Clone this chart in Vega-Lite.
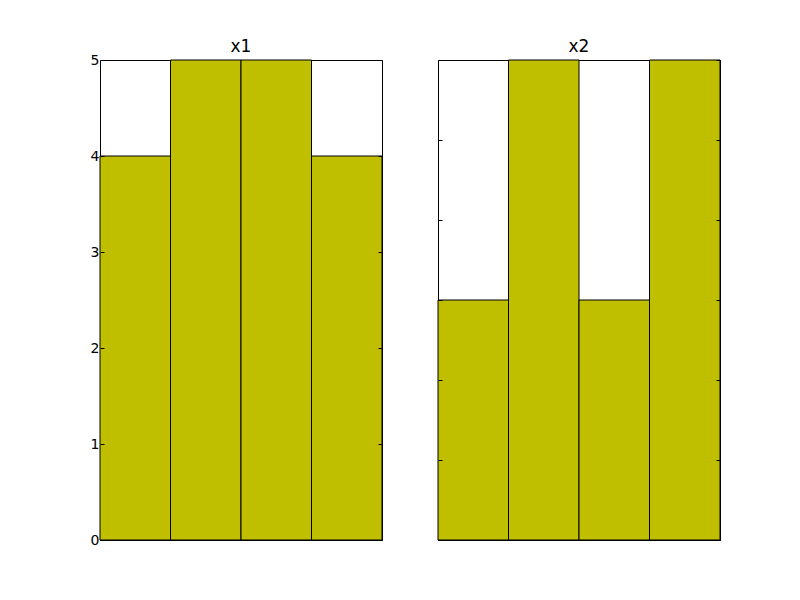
{
  "$schema": "https://vega.github.io/schema/vega-lite/v6.json",
  "padding": {"left": 89, "top": 37, "right": 0, "bottom": 0},
  "background": "white",
  "bounds": "flush",
  "config": {
    "font": "DejaVu Sans",
    "view": {"stroke": "black", "strokeWidth": 1},
    "title": {"fontSize": 17, "fontWeight": "normal", "color": "black", "offset": -3, "font": "DejaVu Sans"},
    "axis": {"grid": false, "domain": false, "tickColor": "black", "tickSize": -4, "labelColor": "black", "labelFont": "DejaVu Sans", "labelFontSize": 14, "zindex": 2}
  },
  "datasets": {
    "x1": [{"bin": "a", "count": 4}, {"bin": "b", "count": 5}, {"bin": "c", "count": 5}, {"bin": "d", "count": 4}],
    "x2": [{"bin": "a", "count": 1.5}, {"bin": "b", "count": 3}, {"bin": "c", "count": 1.5}, {"bin": "d", "count": 3}]
  },
  "spacing": 56,
  "hconcat": [
    {
      "title": "x1",
      "width": 282,
      "height": 480,
      "data": {"name": "x1"},
      "layer": [
        {
          "mark": {"type": "bar", "color": "#bfbf00", "stroke": "black", "strokeWidth": 1, "zindex": 0},
          "encoding": {
            "x": {"field": "bin", "type": "nominal", "axis": null, "scale": {"paddingInner": 0, "paddingOuter": 0}},
            "y": {"field": "count", "type": "quantitative", "scale": {"domain": [0, 5], "nice": false}, "axis": {"orient": "left", "values": [0, 1, 2, 3, 4, 5], "title": null, "labelPadding": 5, "format": "d", "labelFlush": false, "zindex": 2}}
          }
        },
        {
          "mark": {"type": "bar", "opacity": 0},
          "encoding": {
            "x": {"field": "bin", "type": "nominal", "axis": null},
            "y": {"field": "count", "type": "quantitative", "axis": {"orient": "right", "values": [0, 1, 2, 3, 4, 5], "labels": false, "title": null, "zindex": 2}}
          }
        }
      ],
      "resolve": {"axis": {"y": "independent"}}
    },
    {
      "title": "x2",
      "width": 282,
      "height": 480,
      "data": {"name": "x2"},
      "layer": [
        {
          "mark": {"type": "bar", "color": "#bfbf00", "stroke": "black", "strokeWidth": 1, "zindex": 0},
          "encoding": {
            "x": {"field": "bin", "type": "nominal", "axis": null, "scale": {"paddingInner": 0, "paddingOuter": 0}},
            "y": {"field": "count", "type": "quantitative", "scale": {"domain": [0, 3], "nice": false}, "axis": {"orient": "left", "values": [0, 0.5, 1, 1.5, 2, 2.5, 3], "labelOpacity": 0, "labelPadding": 5, "labelFlush": false, "title": null, "zindex": 2}}
          }
        },
        {
          "mark": {"type": "bar", "opacity": 0},
          "encoding": {
            "x": {"field": "bin", "type": "nominal", "axis": null},
            "y": {"field": "count", "type": "quantitative", "axis": {"orient": "right", "values": [0, 0.5, 1, 1.5, 2, 2.5, 3], "labels": false, "title": null, "zindex": 2}}
          }
        }
      ],
      "resolve": {"axis": {"y": "independent"}}
    }
  ]
}
